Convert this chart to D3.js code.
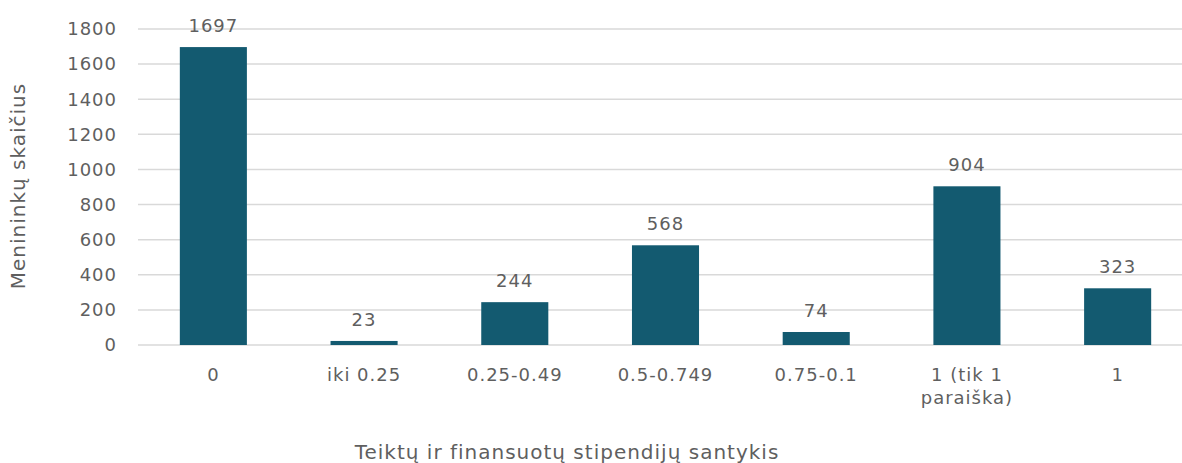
<!DOCTYPE html>
<html>
<head>
<meta charset="utf-8">
<script src="https://cdn.jsdelivr.net/npm/d3@7"></script>
<style>
  body { margin: 0; background: #fff; }
  text { font-family: "DejaVu Sans", sans-serif; fill: #5f5f5f; letter-spacing: 1px; }
</style>
</head>
<body>
<script>
let categories = ["0", "iki 0.25", "0.25-0.49", "0.5-0.749", "0.75-0.1", "1 (tik 1 paraiška)", "1"]
let catLines = [["0"], ["iki 0.25"], ["0.25-0.49"], ["0.5-0.749"], ["0.75-0.1"], ["1 (tik 1", "paraiška)"], ["1"]]
let values = [1697, 23, 244, 568, 74, 904, 323]
let yTicks = [0, 200, 400, 600, 800, 1000, 1200, 1400, 1600, 1800]

let w = 1182
let h = 463

let svg = d3.select("body").append("svg")
  .attr("width", w)
  .attr("height", h)

let xScale = d3.scaleBand().domain(categories).range([138, 1193]).paddingInner(0.555).paddingOuter(0.2775)
let yScale = d3.scaleLinear().domain([0, 1800]).range([345, 29])

// grid
svg.append("g")
  .selectAll("line")
  .data(yTicks)
  .enter()
  .append("line")
  .attr("x1", 138)
  .attr("x2", w)
  .attr("y1", d => yScale(d))
  .attr("y2", d => yScale(d))
  .attr("stroke", "#d9d9d9")
  .attr("stroke-width", 1.5)

// y labels
svg.append("g")
  .selectAll("text")
  .data(yTicks)
  .enter()
  .append("text")
  .attr("x", 117)
  .attr("y", d => yScale(d))
  .attr("dy", "0.35em")
  .attr("text-anchor", "end")
  .style("font-size", "18px")
  .text(d => d)

// bars
svg.selectAll("rect.bar")
  .data(values)
  .enter()
  .append("rect")
  .attr("class", "bar")
  .attr("x", (d, i) => xScale(categories[i]))
  .attr("width", xScale.bandwidth())
  .attr("y", d => yScale(d))
  .attr("height", d => yScale(0) - yScale(d))
  .attr("fill", "#135a70")

// value labels
svg.selectAll("text.val")
  .data(values)
  .enter()
  .append("text")
  .attr("class", "val")
  .attr("x", (d, i) => xScale(categories[i]) + xScale.bandwidth() / 2)
  .attr("y", d => yScale(d) - 15)
  .attr("text-anchor", "middle")
  .style("font-size", "18px")
  .text(d => d)

// x labels
let xl = svg.append("g")
catLines.forEach((lines, i) => {
  let t = xl.append("text")
    .attr("x", xScale(categories[i]) + xScale.bandwidth() / 2)
    .attr("y", 381)
    .attr("text-anchor", "middle")
    .style("font-size", "18px")
  lines.forEach((ln, j) => {
    t.append("tspan")
      .attr("x", xScale(categories[i]) + xScale.bandwidth() / 2)
      .attr("dy", j == 0 ? 0 : 23)
      .text(ln)
  })
})

// axis titles
svg.append("text")
  .attr("transform", "translate(25,186) rotate(-90)")
  .attr("text-anchor", "middle")
  .style("font-size", "20px")
  .text("Menininkų skaičius")

svg.append("text")
  .attr("x", 567)
  .attr("y", 459)
  .attr("text-anchor", "middle")
  .style("font-size", "20px")
  .text("Teiktų ir finansuotų stipendijų santykis")
</script>
</body>
</html>
